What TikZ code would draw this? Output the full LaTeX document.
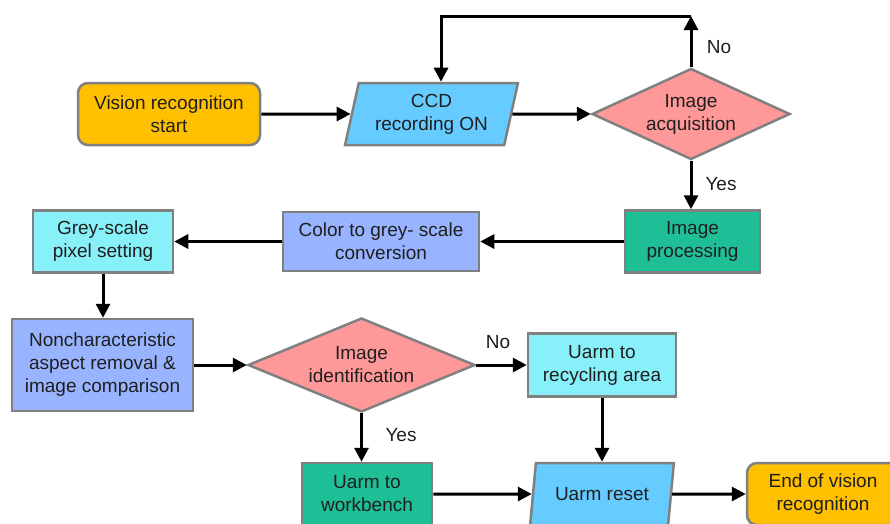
\documentclass[tikz,border=0pt]{standalone}
\usepackage{fontspec}
\setmainfont{Liberation Sans}
\usetikzlibrary{shapes.geometric,arrows.meta}

\definecolor{startfill}{RGB}{255,192,0}
\definecolor{iofill}{RGB}{102,204,255}
\definecolor{decfill}{RGB}{255,153,153}
\definecolor{procgreen}{RGB}{30,190,150}
\definecolor{procblue}{RGB}{153,180,255}
\definecolor{proccyan}{RGB}{136,240,248}
\definecolor{edgegray}{RGB}{128,128,128}

\tikzset{
  base/.style={draw=edgegray, line width=2.5pt, align=center, inner sep=2pt,
    text=black!88, font=\fontsize{19}{23}\selectfont},
  terminal/.style={base, rectangle, rounded corners=10pt, fill=startfill},
  iobox/.style={base, trapezium, trapezium left angle=76, trapezium right angle=104,
    trapezium stretches=true, fill=iofill},
  decision/.style={base, diamond, aspect=2.2, fill=decfill},
  procbox/.style={base, rectangle},
  flow/.style={line width=3pt, -{Triangle[length=14pt,width=14pt]}},
  lbl/.style={font=\fontsize{19}{23}\selectfont, text=black!88}
}

\begin{document}
\begin{tikzpicture}[x=1pt,y=-1pt]
\path[use as bounding box, clip] (0,0) rectangle (890,523);
\fill[white] (0,0) rectangle (890,523);

% top row
\node[terminal, minimum width=182pt, minimum height=62pt] (start) at (169,114) {Vision recognition\\start};
\node[iobox, minimum width=173pt, minimum height=62pt] (ccd) at (431.5,114) {CCD\\recording ON};
\node[decision, minimum width=198pt, minimum height=91pt] (acq) at (691,114) {Image\\acquisition};

% middle row
\node[procbox, fill=procgreen, minimum width=135pt, minimum height=62pt] (proc) at (692.5,241.5) {Image\\processing};
\node[procbox, fill=procblue, minimum width=196pt, minimum height=59pt] (conv) at (381,241.5) {Color to grey- scale\\conversion};
\node[procbox, fill=proccyan, minimum width=140pt, minimum height=62pt] (grey) at (103,241.5) {Grey-scale\\pixel setting};

% lower rows
\node[procbox, fill=procblue, minimum width=181pt, minimum height=92pt] (nonc) at (102.5,365) {Noncharacteristic\\aspect removal \&\\image comparison};
\node[decision, minimum width=227pt, minimum height=94pt] (ident) at (361.5,365) {Image\\identification};
\node[procbox, fill=proccyan, minimum width=148pt, minimum height=63pt] (recyc) at (602,365) {Uarm to\\recycling area};
\node[procbox, fill=procgreen, minimum width=130pt, minimum height=62pt] (bench) at (367,494) {Uarm to\\workbench};
\node[iobox, minimum width=144pt, minimum height=62pt] (reset) at (602,494) {Uarm reset};
\node[terminal, minimum width=152pt, minimum height=62pt] (end) at (823,494) {End of vision\\recognition};

% loop back from the acquisition test
\coordinate (loopR) at (691,16);
\coordinate (loopL) at (441,16);

% connectors
\draw[flow] (start) -- (ccd);
\draw[flow] (ccd) -- (acq);
\draw[flow] (acq.north) -- (loopR);
\draw[flow] (loopR) -- (loopL) -- (ccd.north -| loopL);
\draw[flow] (acq.south) -- (acq.south |- proc.north);
\draw[flow] (proc) -- (conv);
\draw[flow] (conv) -- (grey);
\draw[flow] (grey.south) -- (grey.south |- nonc.north);
\draw[flow] (nonc) -- (ident);
\draw[flow] (ident.east) -- (recyc.west |- ident.east);
\draw[flow] (ident.south) -- (ident.south |- bench.north);
\draw[flow] (recyc.south) -- (recyc.south |- reset.north);
\draw[flow] (bench) -- (reset);
\draw[flow] (reset) -- (end);

% branch labels
\node[lbl] (noA) at (719,47) {No};
\node[lbl] (yesA) at (721,184) {Yes};
\node[lbl] (noB) at (498,342) {No};
\node[lbl] (yesB) at (401,435) {Yes};
\end{tikzpicture}
\end{document}
